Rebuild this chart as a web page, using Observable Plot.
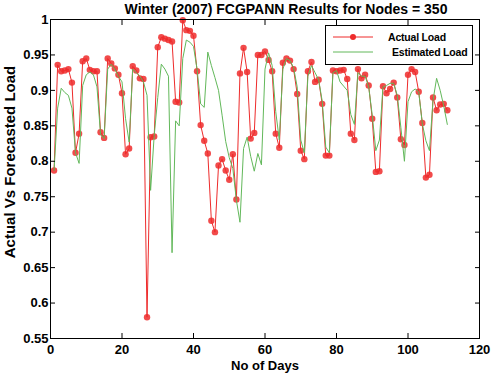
<!DOCTYPE html>
<html><head><meta charset="utf-8">
<script src="https://cdn.jsdelivr.net/npm/d3@7"></script>
<script src="https://cdn.jsdelivr.net/npm/@observablehq/plot@0.6"></script>
<style>
body{margin:0;background:#fff;}
#wrap{position:relative;width:495px;height:374px;overflow:hidden;}
.legend{position:absolute;left:325px;top:25px;width:148px;height:40px;border:1px solid #000;background:#fff;box-sizing:border-box;font:bold 10.5px "Liberation Sans",Arial,sans-serif;letter-spacing:-0.2px;}
.legend .row{position:absolute;left:7px;height:14px;display:flex;align-items:center;}
</style></head><body><div id="wrap"></div>
<script>
const title = "Winter (2007) FCGPANN Results for Nodes = 350";
const xLabel = "No of Days";
const yLabel = "Actual Vs Forecasted Load";
const seriesNames = ["Actual Load", "Estimated Load"];
const seriesColors = ["#ee2b2b", "#62b85a"];
const xTicks = [0, 20, 40, 60, 80, 100, 120];
const yTicks = [0.55, 0.6, 0.65, 0.7, 0.75, 0.8, 0.85, 0.9, 0.95, 1];
const days = d3.range(1, 112);
const actual = [
  0.787, 0.936, 0.927, 0.928, 0.930, 0.911, 0.812, 0.839, 0.941, 0.945,
  0.929, 0.927, 0.927, 0.841, 0.833, 0.945, 0.938, 0.931, 0.922, 0.896,
  0.810, 0.818, 0.934, 0.928, 0.917, 0.916, 0.580, 0.834, 0.835, 0.961,
  0.975, 0.973, 0.971, 0.969, 0.884, 0.883, 0.999, 0.985, 0.984, 0.977,
  0.927, 0.851, 0.829, 0.811, 0.716, 0.700, 0.794, 0.803, 0.787, 0.774,
  0.810, 0.746, 0.924, 0.960, 0.926, 0.832, 0.840, 0.950, 0.950, 0.955,
  0.943, 0.927, 0.839, 0.819, 0.939, 0.945, 0.942, 0.930, 0.895, 0.815,
  0.803, 0.927, 0.940, 0.912, 0.915, 0.881, 0.808, 0.808, 0.928, 0.927,
  0.928, 0.929, 0.916, 0.839, 0.830, 0.930, 0.917, 0.922, 0.907, 0.860,
  0.785, 0.786, 0.906, 0.896, 0.902, 0.911, 0.890, 0.831, 0.823, 0.922,
  0.930, 0.926, 0.898, 0.854, 0.777, 0.781, 0.890, 0.872, 0.880, 0.881,
  0.872
];
const estimated = [
  0.787, 0.875, 0.903, 0.897, 0.893, 0.875, 0.812, 0.797, 0.907, 0.922,
  0.926, 0.922, 0.905, 0.838, 0.832, 0.930, 0.937, 0.930, 0.920, 0.912,
  0.860, 0.827, 0.930, 0.925, 0.920, 0.912, 0.893, 0.759, 0.836, 0.890,
  0.937, 0.930, 0.920, 0.671, 0.857, 0.850, 0.945, 0.971, 0.968, 0.962,
  0.930, 0.881, 0.876, 0.954, 0.935, 0.918, 0.900, 0.865, 0.828, 0.805,
  0.790, 0.745, 0.714, 0.818, 0.834, 0.807, 0.786, 0.811, 0.795, 0.930,
  0.953, 0.935, 0.870, 0.830, 0.930, 0.945, 0.942, 0.932, 0.905, 0.830,
  0.812, 0.920, 0.935, 0.925, 0.915, 0.885, 0.820, 0.812, 0.925, 0.928,
  0.912, 0.906, 0.900, 0.866, 0.852, 0.925, 0.920, 0.920, 0.905, 0.865,
  0.815, 0.830, 0.905, 0.907, 0.910, 0.910, 0.893, 0.848, 0.800, 0.884,
  0.898, 0.902, 0.898, 0.853, 0.829, 0.815, 0.886, 0.917, 0.900, 0.878,
  0.852
];

const rows = days.map((d, i) => ({day: d, actual: actual[i], estimated: estimated[i]}));
const fmt = d => String(+d.toFixed(2));

const chart = Plot.plot({
  width: 495,
  height: 374,
  marginLeft: 50,
  marginRight: 16,
  marginTop: 19,
  marginBottom: 36,
  style: {fontFamily: '"Liberation Sans", Arial, sans-serif', fontSize: "13px", fontWeight: "bold", color: "#000", background: "#fff"},
  x: {domain: [0, 120]},
  y: {domain: [0.55, 1]},
  marks: [
    Plot.line(rows, {x: "day", y: "actual", stroke: seriesColors[0], strokeWidth: 1}),
    Plot.dot(rows, {x: "day", y: "actual", r: 3.2, fill: seriesColors[0], fillOpacity: 0.85, stroke: "none"}),
    Plot.line(rows, {x: "day", y: "estimated", stroke: seriesColors[1], strokeWidth: 1}),
    Plot.frame({stroke: "#000"}),
    Plot.axisX(xTicks, {anchor: "bottom", tickSize: -5, tickPadding: 11, tickFormat: fmt, label: xLabel, labelAnchor: "center", labelArrow: "none", labelOffset: 31}),
    Plot.axisX(xTicks, {anchor: "top", tickSize: -5, tickFormat: () => "", label: null}),
    Plot.axisY(yTicks, {anchor: "left", tickSize: -5, tickPadding: 7, tickFormat: fmt, label: null}),
    Plot.axisY(yTicks, {anchor: "right", tickSize: -5, tickFormat: () => "", label: null}),
    Plot.text([yLabel], {frameAnchor: "left", textAnchor: "middle", rotate: -90, dx: -40, dy: -17, fontSize: 15, fontWeight: "bold"}),
    Plot.text([title], {frameAnchor: "top", dx: 21, dy: -15, fontSize: 14, fontWeight: "bold"})
  ]
});
const wrap = document.getElementById("wrap");
wrap.appendChild(chart);

const legend = document.createElement("div");
legend.className = "legend";
seriesNames.forEach((name, i) => {
  const row = document.createElement("div");
  row.className = "row";
  row.style.top = (i === 0 ? 4 : 19) + "px";
  const svg = `<svg width="40" height="10"><line x1="0" x2="40" y1="5" y2="5" stroke="${seriesColors[i]}" stroke-width="1"/>${i === 0 ? `<circle cx="20" cy="5" r="3" fill="${seriesColors[i]}"/>` : ""}</svg>`;
  row.innerHTML = svg + `<span style="margin-left:${i === 0 ? 15 : 19}px">${name}</span>`;
  legend.appendChild(row);
});
wrap.appendChild(legend);
</script>
</body></html>
